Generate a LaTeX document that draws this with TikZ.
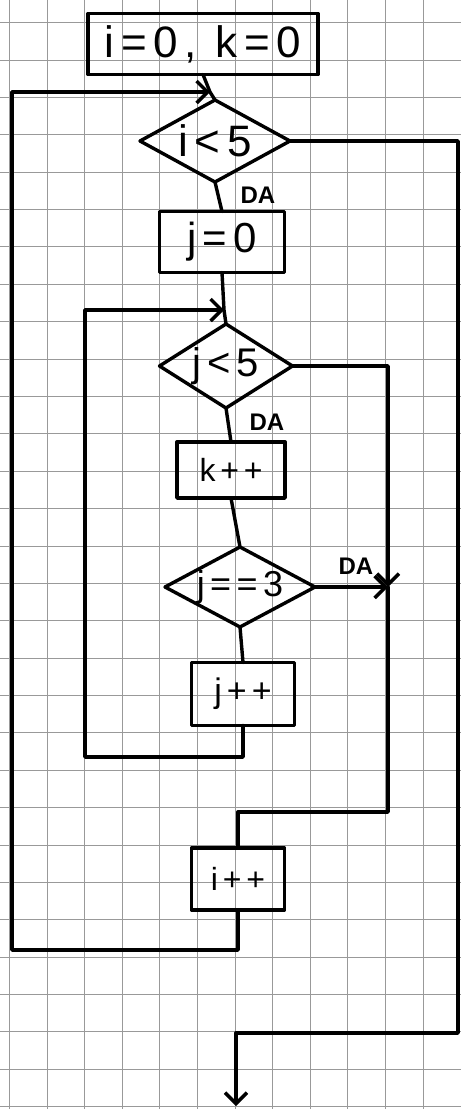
\documentclass[tikz,border=0pt]{standalone}
\usepackage{fontspec}
\setmainfont{Liberation Sans}
\newfontfamily\handfont[LetterSpace=15]{Liberation Sans}
\usetikzlibrary{shapes.geometric,arrows.meta,calc}

\begin{document}
\begin{tikzpicture}[x=1pt,y=-1pt,
  gridline/.style={line width=1pt, draw=black!40},
  ink/.style={line width=3.4pt, line join=round, line cap=round, draw=black},
  arrowtip/.style={-{Straight Barb[length=11pt,width=22pt]}},
  procbox/.style={ink, rectangle, inner sep=0pt, outer sep=0pt,
    font=\handfont\fontsize{#1}{#1}\selectfont},
  decision/.style={ink, diamond, aspect=2, inner sep=-3pt, outer sep=0pt,
    font=\handfont\fontsize{#1}{#1}\selectfont},
  lbl/.style={inner sep=0pt, font=\bfseries\fontsize{24}{24}\selectfont}]

  % paper and its squared ruling
  \useasboundingbox (0,0) rectangle (461,1109);
  \fill[white] (0,0) rectangle (461,1109);
  \foreach \k in {0,...,11}
    \draw[gridline] ({9.5+37.6*\k},0) -- ({9.5+37.6*\k},1109);
  \foreach \k in {0,...,29}
    \draw[gridline] (0,{22.7+37.38*\k}) -- (461,{22.7+37.38*\k});

  % flowchart blocks
  \node[procbox=44, minimum width=230pt, minimum height=61pt] (init) at (203,44) {i=0, k=0};
  \node[decision=44, minimum width=150pt, minimum height=82pt] (d1) at (215,141) {i<5};
  \node[procbox=42, minimum width=125pt, minimum height=61pt] (j0) at (222,242) {j=0};
  \node[decision=40, minimum width=133pt, minimum height=84pt] (d2) at (226,366) {j<5};
  \node[procbox=32, minimum width=108pt, minimum height=56pt] (kpp) at (231,470) {k++};
  \node[decision=36, minimum width=150pt, minimum height=80pt] (d3) at (240,587) {j==3};
  \node[procbox=34, minimum width=103pt, minimum height=63pt] (jpp) at (243,694) {j++};
  \node[procbox=32, minimum width=93pt, minimum height=62pt] (ipp) at (238,879) {i++};

  % branch labels
  \node[lbl] (da1) at (258,195) {DA};
  \node[lbl] (da2) at (267,422) {DA};
  \node[lbl] (da3) at (356,566) {DA};

  % junction points of the loops
  \coordinate (m1) at (210,92);
  \coordinate (m2) at (224,310);
  \coordinate (ot) at (12,92);
  \coordinate (ol) at (12,950);
  \coordinate (jt) at (85,310);
  \coordinate (jl) at (85,757);
  \coordinate (r1) at (388,587);
  \coordinate (r2) at (388,812);
  \coordinate (e2) at (458,1033);
  \coordinate (e3) at (236,1033);
  \coordinate (exit) at (236,1106);

  % main flow
  \draw[ink] (init.south) -- (m1) -- (d1.north);
  \draw[ink] (d1.south) -- (j0.north);
  \draw[ink] (j0.south) -- (m2) -- (d2.north);
  \draw[ink] (d2.south) -- (kpp.north);
  \draw[ink] (kpp.south) -- (d3.north);
  \draw[ink] (d3.south) -- (jpp.north);

  % inner loop back to j<5
  \draw[ink, arrowtip] (jpp.south) |- (jl) -- (jt) -- (m2);

  % leaving the inner loop
  \draw[ink, arrowtip] (d2.east) -| (r1);
  \draw[ink, arrowtip] (d3.east) -- (r1);
  \draw[ink] (r1) -- (r2) -| (ipp.north);

  % outer loop back to i<5
  \draw[ink, arrowtip] (ipp.south) |- (ol) -- (ot) -- (m1);

  % exit of the outer loop
  \draw[ink, arrowtip] (d1.east) -| (e2) -- (e3) -- (exit);
\end{tikzpicture}
\end{document}
